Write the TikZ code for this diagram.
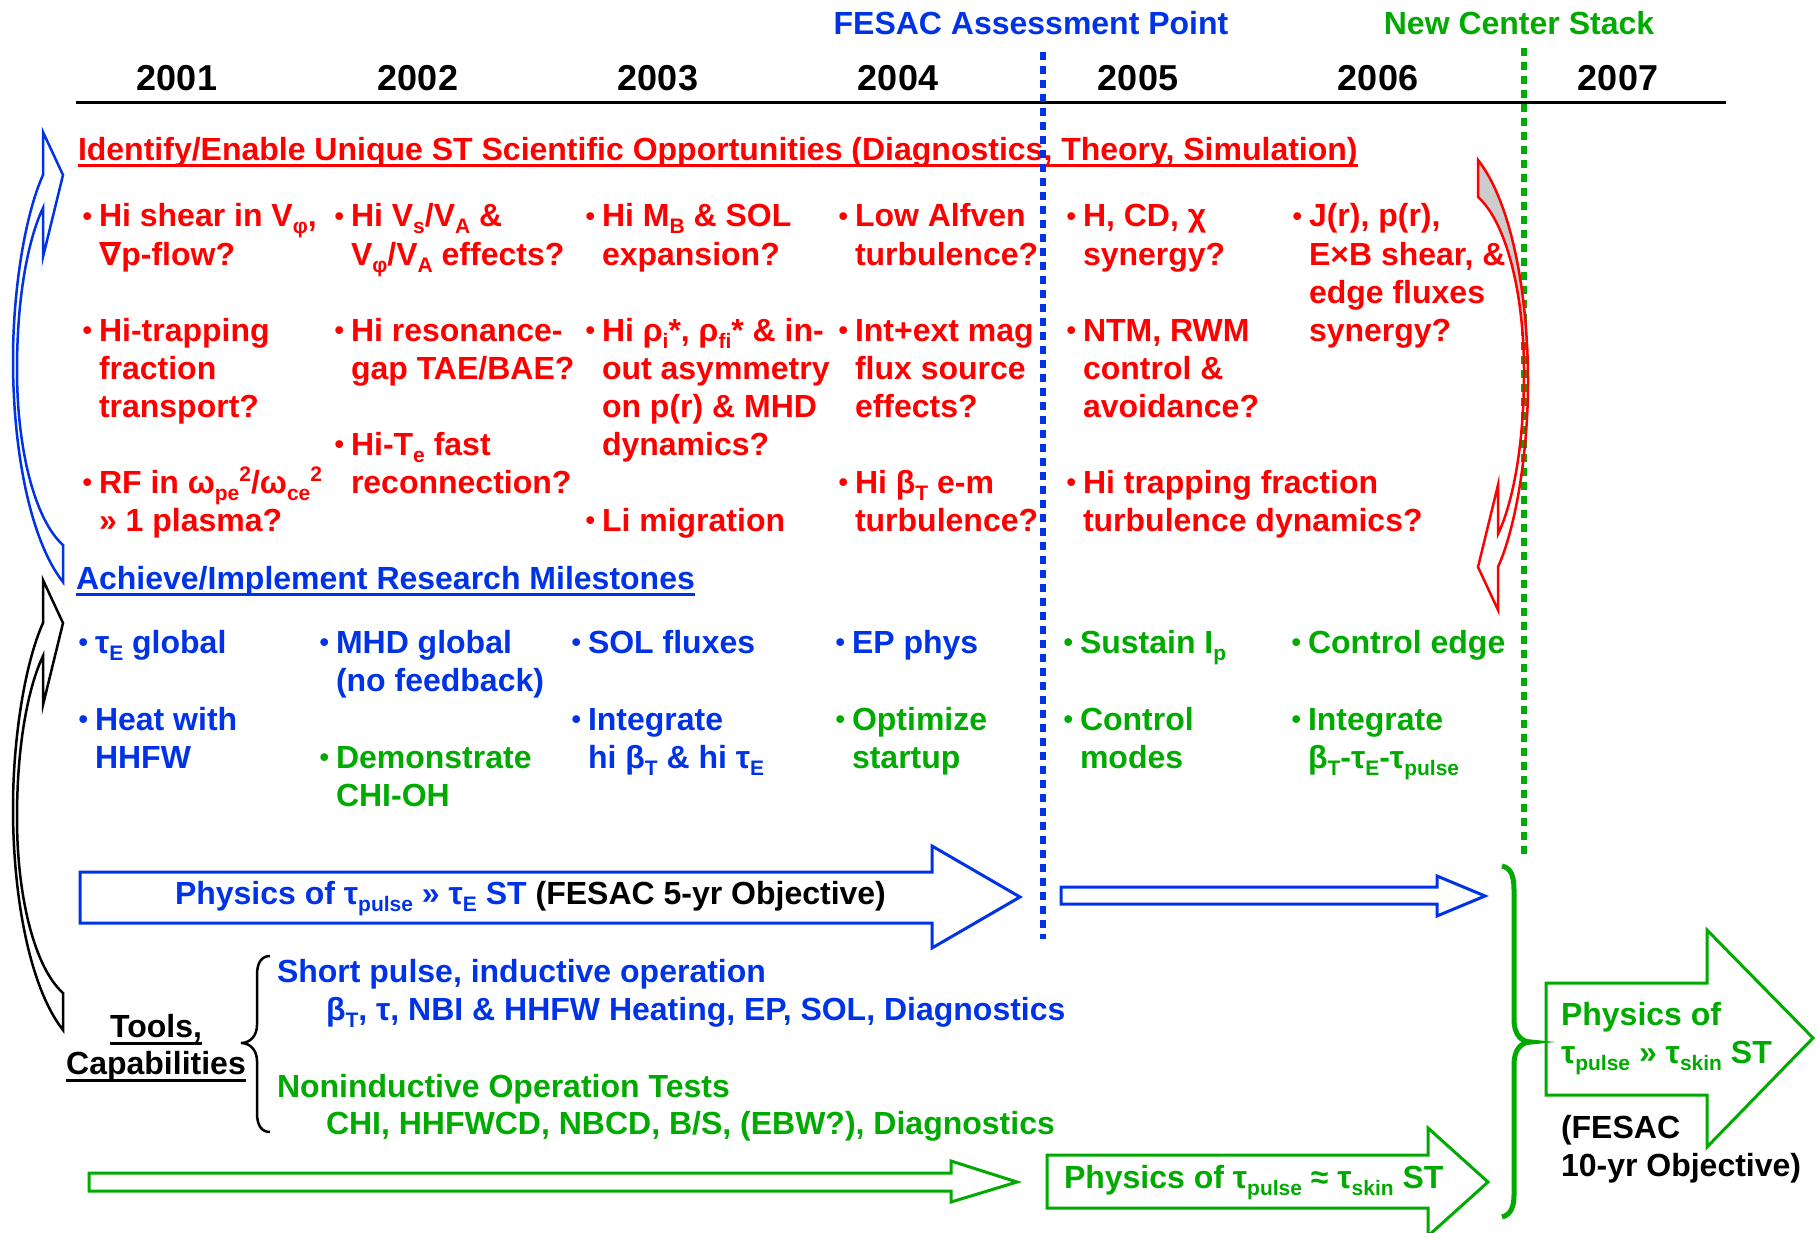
\documentclass[tikz,border=0pt]{standalone}
\usepackage{fontspec}
\setmainfont{Liberation Sans}
\newfontfamily\djv{DejaVu Sans}
\usetikzlibrary{calc}
\definecolor{rd}{RGB}{255,0,0}
\definecolor{bl}{RGB}{0,51,230}
\definecolor{gr}{RGB}{0,170,0}
\definecolor{gy}{RGB}{204,204,204}
\newcommand\sbs[1]{\smash{\raisebox{-7pt}{\fontsize{21}{21}\selectfont #1}}}
\newcommand\sps[1]{\smash{\raisebox{12pt}{\fontsize{21}{21}\selectfont #1}}}
\newcommand\ml[1]{\begin{tabular}[t]{@{}l@{}}#1\end{tabular}}
\newcommand\bul{\llap{\raisebox{1.5pt}{\fontsize{27}{27}\selectfont •}\hspace{7pt}}}
\tikzset{
  txt/.style={anchor=base west},
  yr/.style={anchor=base, font=\bfseries\fontsize{36}{40}\selectfont},
  rdt/.style={txt, text=rd},
  blt/.style={txt, text=bl},
  grt/.style={txt, text=gr},
  bkt/.style={txt, text=black},
  dotl/.style={line width=6pt, dash pattern=on 8pt off 6pt},
  blockarrow/.style={line width=3pt, line join=miter},
  ulin/.style={line width=3pt},
}
\begin{document}
\begin{tikzpicture}[x=1pt,y=-1pt,
  every node/.style={inner sep=0pt, outer sep=0pt, font=\bfseries\fontsize{32}{38.2}\selectfont}]
\useasboundingbox (0,0) rectangle (1817,1233);
\clip (0,0) rectangle (1817,1233);

% header
\node[blt, anchor=base] (fap) at (1031,35) {FESAC Assessment Point};
\node[grt, anchor=base] (ncs) at (1519,35) {New Center Stack};
\node[yr] (y1) at (177,91) {2001};
\node[yr] (y2) at (418,91) {2002};
\node[yr] (y3) at (658,91) {2003};
\node[yr] (y4) at (898,91) {2004};
\node[yr] (y5) at (1138,91) {2005};
\node[yr] (y6) at (1378,91) {2006};
\node[yr] (y7) at (1618,91) {2007};
\coordinate (tl0) at (76,103);
\coordinate (tl1) at (1726,103);
\draw[line width=3pt] (tl0) -- (tl1);

% red heading and items
\node[rdt] (h1) at (78,161) {Identify/Enable Unique ST Scientific Opportunities (Diagnostics, Theory, Simulation)};
\draw[rd, ulin] ($(h1.base west)+(0,5)$) -- ($(h1.base east)+(0,5)$);

\node[rdt] (a1) at (99,227) {\ml{\bul Hi shear in V\sbs{φ},\\{\djv ∇}p-flow?}};
\node[rdt] (a2) at (99,341) {\ml{\bul Hi-trapping\\fraction\\transport?}};
\node[rdt] (a3) at (99,493) {\ml{\bul RF in ω\sbs{pe}\sps{2}/ω\sbs{ce}\sps{2}\\» 1 plasma?}};
\node[rdt] (b1) at (351,227) {\ml{\bul Hi V\sbs{s}/V\sbs{A} \&\\V\sbs{φ}/V\sbs{A} effects?}};
\node[rdt] (b2) at (351,341) {\ml{\bul Hi resonance-\\gap TAE/BAE?}};
\node[rdt] (b3) at (351,455) {\ml{\bul Hi-T\sbs{e} fast\\reconnection?}};
\node[rdt] (c1) at (602,227) {\ml{\bul Hi M\sbs{B} \& SOL\\expansion?}};
\node[rdt] (c2) at (602,341) {\ml{\bul Hi ρ\sbs{i}*, ρ\sbs{fi}* \& in-\\out asymmetry\\on p(r) \& MHD\\dynamics?}};
\node[rdt] (c3) at (602,531) {\ml{\bul Li migration}};
\node[rdt] (d1) at (855,227) {\ml{\bul Low Alfven\\turbulence?}};
\node[rdt] (d2) at (855,341) {\ml{\bul Int+ext mag\\flux source\\effects?}};
\node[rdt] (d3) at (855,493) {\ml{\bul Hi β\sbs{T} e-m\\turbulence?}};
\node[rdt] (e1) at (1083,227) {\ml{\bul H, CD, χ\\synergy?}};
\node[rdt] (e2) at (1083,341) {\ml{\bul NTM, RWM\\control \&\\avoidance?}};
\node[rdt] (e3) at (1083,493) {\ml{\bul Hi trapping fraction\\turbulence dynamics?}};
\node[rdt] (f1) at (1309,227) {\ml{\bul J(r), p(r),\\E×B shear, \&\\edge fluxes\\synergy?}};

% blue heading and milestones
\node[blt] (h2) at (76,589) {Achieve/Implement Research Milestones};
\draw[bl, ulin] ($(h2.base west)+(0,5)$) -- ($(h2.base east)+(0,5)$);

\node[blt] (m11) at (95,653) {\ml{\bul τ\sbs{E} global}};
\node[blt] (m12) at (95,730) {\ml{\bul Heat with\\HHFW}};
\node[blt] (m21) at (336,653) {\ml{\bul MHD global\\(no feedback)}};
\node[grt] (m22) at (336,768) {\ml{\bul Demonstrate\\CHI-OH}};
\node[blt] (m31) at (588,653) {\ml{\bul SOL fluxes}};
\node[blt] (m32) at (588,730) {\ml{\bul Integrate\\hi β\sbs{T} \& hi τ\sbs{E}}};
\node[blt] (m41) at (852,653) {\ml{\bul EP phys}};
\node[grt] (m42) at (852,730) {\ml{\bul Optimize\\startup}};
\node[grt] (m51) at (1080,653) {\ml{\bul Sustain I\sbs{p}}};
\node[grt] (m52) at (1080,730) {\ml{\bul Control\\modes}};
\node[grt] (m61) at (1308,653) {\ml{\bul Control edge}};
\node[grt] (m62) at (1308,730) {\ml{\bul Integrate\\β\sbs{T}-τ\sbs{E}-τ\sbs{pulse}}};

% block arrows
\draw[bl, blockarrow] (80,872) -- (932,872) -- (932,846) -- (1020,897) -- (932,948) -- (932,923) -- (80,923) -- cycle;
\draw[bl, blockarrow] (1061,887) -- (1437,887) -- (1437,876) -- (1485,896) -- (1437,916) -- (1437,904) -- (1061,904) -- cycle;
\draw[gr, blockarrow] (89,1173) -- (951,1173) -- (951,1161) -- (1017,1182) -- (951,1202) -- (951,1191) -- (89,1191) -- cycle;
\draw[gr, blockarrow] (1047,1155) -- (1428,1155) -- (1428,1128) -- (1488,1182) -- (1428,1236) -- (1428,1208) -- (1047,1208) -- cycle;
\draw[gr, blockarrow] (1546,983) -- (1707,983) -- (1707,930) -- (1813,1038) -- (1707,1147) -- (1707,1095) -- (1546,1095) -- cycle;

\node[bkt] (p1) at (175,904) {\textcolor{bl}{Physics of τ\sbs{pulse} » τ\sbs{E} ST} (FESAC 5-yr Objective)};
\node[grt] (g1) at (1064,1188) {Physics of τ\sbs{pulse} ≈ τ\sbs{skin} ST};
\node[grt] (g2) at (1561,1025) {\ml{Physics of\\τ\sbs{pulse} » τ\sbs{skin} ST}};
\node[bkt] (g3) at (1561,1138) {\ml{(FESAC\\10-yr Objective)}};

% tools
\node[bkt, anchor=base] (t1) at (156,1037) {Tools,};
\node[bkt, anchor=base] (t2) at (156,1074) {Capabilities};
\draw[ulin] ($(t1.base west)+(0,6)$) -- ($(t1.base east)+(0,6)$);
\draw[ulin] ($(t2.base west)+(0,6)$) -- ($(t2.base east)+(0,6)$);
\node[blt] (s1) at (277,982) {Short pulse, inductive operation};
\node[blt] (s2) at (326,1020) {β\sbs{T}, τ, NBI \& HHFW Heating, EP, SOL, Diagnostics};
\node[grt] (s3) at (277,1097) {Noninductive Operation Tests};
\node[grt] (s4) at (326,1134) {CHI, HHFWCD, NBCD, B/S, (EBW?), Diagnostics};

% braces
\draw[line width=2.5pt] (270,956) .. controls (262,956) and (257,962) .. (257,975) -- (257,1025) .. controls (257,1036) and (250,1043) .. (241,1043) .. controls (250,1043) and (257,1050) .. (257,1061) -- (257,1113) .. controls (257,1126) and (262,1132) .. (270,1132);
\draw[gr, line width=5pt] (1502,866) .. controls (1511,868) and (1514,876) .. (1514,890) -- (1514,1020) .. controls (1514,1034) and (1521,1042) .. (1531,1042) .. controls (1521,1042) and (1514,1050) .. (1514,1064) -- (1514,1195) .. controls (1514,1208) and (1510,1215) .. (1502,1217);

% dotted milestone lines
\coordinate (bd0) at (1043,52);
\coordinate (bd1) at (1043,939);
\coordinate (gd0) at (1524,48);
\coordinate (gd1) at (1524,857);
\draw[gr, dotl] (gd0) -- (gd1);

% curved arrows
\draw[bl, line width=2.5pt, line join=miter] (63,175) -- (43,132) -- (43,175) .. controls (25,215) and (13,290) .. (13,360) .. controls (13,450) and (30,540) .. (63,582) -- (63,545) .. controls (35,520) and (17,450) .. (17,370) .. controls (17,290) and (30,235) .. (43,208) -- (43,257) -- cycle;
\begin{scope}[shift={(0,448)}]
\draw[black, line width=2.5pt, line join=miter] (63,175) -- (43,132) -- (43,175) .. controls (25,215) and (13,290) .. (13,360) .. controls (13,450) and (30,540) .. (63,582) -- (63,545) .. controls (35,520) and (17,450) .. (17,370) .. controls (17,290) and (30,235) .. (43,208) -- (43,257) -- cycle;
\end{scope}
\begin{scope}[rotate around={180:(770.5,371)}]
\begin{scope}
\clip (0,402) rectangle (90,600);
\fill[gy] (63,545) .. controls (35,520) and (17,450) .. (17,370) .. controls (17,290) and (30,235) .. (43,208) -- (43,175) .. controls (25,215) and (13,290) .. (13,360) .. controls (13,450) and (30,540) .. (63,582) -- cycle;
\end{scope}
\draw[rd, line width=2.5pt, line join=miter] (63,175) -- (43,132) -- (43,175) .. controls (25,215) and (13,290) .. (13,360) .. controls (13,450) and (30,540) .. (63,582) -- (63,545) .. controls (35,520) and (17,450) .. (17,370) .. controls (17,290) and (30,235) .. (43,208) -- (43,257) -- cycle;
\end{scope}
\draw[bl, dotl] (bd0) -- (bd1);
\end{tikzpicture}
\end{document}
